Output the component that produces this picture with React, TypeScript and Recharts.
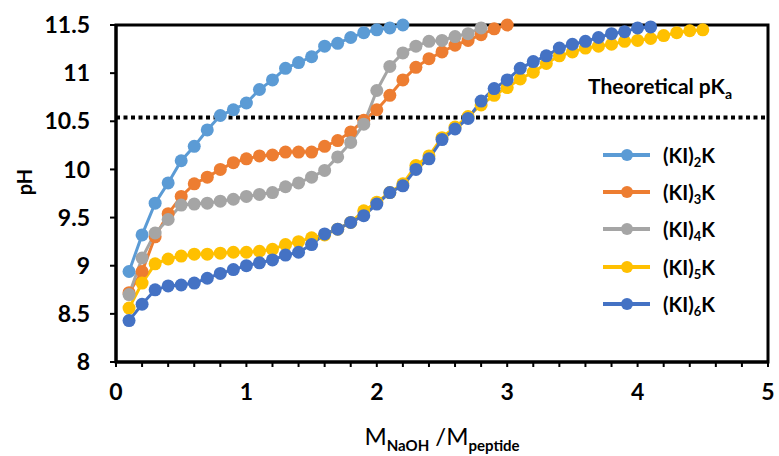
import React from 'react'
import {
  LineChart,
  Line,
  XAxis,
  YAxis,
  ReferenceLine,
  ReferenceArea,
  Label,
} from 'recharts'

// NaOH / peptide molar ratio for each titration point
const X_VALUES = [
  0.1, 0.2, 0.3, 0.4, 0.5, 0.6, 0.7, 0.8, 0.9, 1.0,
  1.1, 1.2, 1.3, 1.4, 1.5, 1.6, 1.7, 1.8, 1.9, 2.0,
  2.1, 2.2, 2.3, 2.4, 2.5, 2.6, 2.7, 2.8, 2.9, 3.0,
  3.1, 3.2, 3.3, 3.4, 3.5, 3.6, 3.7, 3.8, 3.9, 4.0,
  4.1, 4.2, 4.3, 4.4, 4.5,
]

const KI2K = [
  8.94, 9.32, 9.65, 9.86, 10.09, 10.24, 10.41, 10.56, 10.62, 10.69,
  10.83, 10.93, 11.05, 11.11, 11.17, 11.28, 11.31, 11.37, 11.42, 11.45,
  11.47, 11.5,
]
const KI3K = [
  8.72, 8.94, 9.3, 9.54, 9.72, 9.85, 9.92, 10.0, 10.07, 10.11,
  10.14, 10.15, 10.18, 10.18, 10.18, 10.24, 10.3, 10.39, 10.51, 10.62,
  10.77, 10.93, 11.06, 11.15, 11.22, 11.29, 11.34, 11.4, 11.46, 11.5,
]
const KI4K = [
  8.7, 9.08, 9.34, 9.48, 9.63, 9.64, 9.65, 9.67, 9.69, 9.72,
  9.74, 9.76, 9.82, 9.86, 9.92, 9.99, 10.13, 10.28, 10.47, 10.82,
  11.07, 11.21, 11.28, 11.33, 11.34, 11.38, 11.41, 11.47,
]
const KI5K = [
  8.56, 8.82, 9.02, 9.07, 9.1, 9.12, 9.12, 9.13, 9.14, 9.14,
  9.15, 9.17, 9.22, 9.25, 9.29, 9.32, 9.38, 9.45, 9.57, 9.66,
  9.76, 9.85, 10.04, 10.14, 10.33, 10.44, 10.55, 10.67, 10.77, 10.85,
  10.94, 11.01, 11.1, 11.18, 11.22, 11.26, 11.28, 11.3, 11.33, 11.34,
  11.36, 11.39, 11.42, 11.44, 11.45,
]
const KI6K = [
  8.43, 8.6, 8.75, 8.79, 8.8, 8.82, 8.87, 8.92, 8.96, 9.0,
  9.03, 9.06, 9.11, 9.14, 9.22, 9.33, 9.38, 9.45, 9.52, 9.64,
  9.76, 9.83, 10.0, 10.11, 10.31, 10.42, 10.53, 10.71, 10.84, 10.93,
  11.05, 11.12, 11.18, 11.26, 11.3, 11.33, 11.37, 11.41, 11.43, 11.47,
  11.48,
]

const SERIES_NAMES = ['KI2K', 'KI3K', 'KI4K', 'KI5K', 'KI6K']
const SERIES_SUBS = ['2', '3', '4', '5', '6']
const SERIES_VALUES = [KI2K, KI3K, KI4K, KI5K, KI6K]
const SERIES_COLORS = ['#5B9BD5', '#ED7D31', '#A5A5A5', '#FFC000', '#4472C4']

const Y_TICKS = [8, 8.5, 9, 9.5, 10, 10.5, 11, 11.5]
const X_TICKS = [
  0, 0.2, 0.4, 0.6, 0.8, 1, 1.2, 1.4, 1.6, 1.8, 2, 2.2, 2.4, 2.6, 2.8,
  3, 3.2, 3.4, 3.6, 3.8, 4, 4.2, 4.4, 4.6, 4.8, 5,
]
const THEORETICAL_PKA = 10.54

const FONT = "Lato, 'Open Sans', sans-serif"

const XTick = ({ x, y, payload }: any) => {
  const v = payload.value
  if (Math.abs(v - Math.round(v)) > 1e-6) return null
  return (
    <text x={x} y={y} dy="0.72em" textAnchor="middle" fontSize={23} fontWeight="bold" fontFamily={FONT} fill="#000">
      {Math.round(v)}
    </text>
  )
}

const XTitle = ({ viewBox }: any) => {
  const cx = viewBox.x + viewBox.width / 2
  return (
    <text x={cx} y={445} textAnchor="middle" fontSize={24} fontFamily={FONT} fill="#000">
      <tspan>M</tspan>
      <tspan fontSize={15} fontWeight="bold" dy={6}>NaOH</tspan>
      <tspan dy={-6}> /M</tspan>
      <tspan fontSize={15} fontWeight="bold" dy={6}>peptide</tspan>
    </text>
  )
}

const YTitle = () => (
  <text
    x={24}
    y={182}
    transform="rotate(-90 24 182)"
    textAnchor="middle"
    dominantBaseline="central"
    fontSize={20}
    fontWeight="bold"
    fontFamily={FONT}
    fill="#000"
  >
    pH
  </text>
)

const PkaLabel = ({ viewBox }: any) => {
  const right = viewBox.x + viewBox.width - 36
  return (
    <text x={right} y={viewBox.y - 23} textAnchor="end" fontSize={21} fontWeight="bold" fontFamily={FONT} fill="#000">
      <tspan>Theoretical pK</tspan>
      <tspan fontSize={14} dy={5}>a</tspan>
    </text>
  )
}

// legend drawn as an overlay so it doesn't eat into the plot area
const ChartLegend = () => (
  <div style={{ position: 'absolute', left: 603, top: 136, fontFamily: FONT }}>
    {SERIES_NAMES.map((name, i) => (
      <div key={name} style={{ display: 'flex', alignItems: 'center', height: 37.3 }}>
        <svg width={47} height={16} style={{ display: 'block' }}>
          <line x1={0} y1={8} x2={47} y2={8} stroke={SERIES_COLORS[i]} strokeWidth={4} />
          <circle cx={24} cy={8} r={6} fill={SERIES_COLORS[i]} />
        </svg>
        <span style={{ marginLeft: 13, fontSize: 20, fontWeight: 'bold', color: '#000', whiteSpace: 'nowrap' }}>
          (KI)<sub style={{ fontSize: 13, verticalAlign: -4, lineHeight: 0 }}>{SERIES_SUBS[i]}</sub>K
        </span>
      </div>
    ))}
  </div>
)

export default function App() {
  return (
    <div style={{ position: 'absolute', left: 0, top: 0, width: 779, height: 456, background: '#fff' }}>
      <LineChart width={779} height={456} margin={{ top: 25, right: 11, left: 56, bottom: 34 }}>
        <XAxis
          type="number"
          dataKey="x"
          domain={[0, 5]}
          ticks={X_TICKS}
          interval={0}
          tickSize={5}
          tickMargin={16}
          height={60}
          axisLine={{ stroke: '#000', strokeWidth: 3 }}
          tickLine={{ stroke: '#000', strokeWidth: 2 }}
          tick={(p: any) => <XTick {...p} />}
        >
          <Label content={<XTitle />} />
        </XAxis>
        <YAxis
          type="number"
          domain={[8, 11.5]}
          ticks={Y_TICKS}
          interval={0}
          width={60}
          tickSize={6}
          tickMargin={20}
          axisLine={{ stroke: '#000', strokeWidth: 3 }}
          tickLine={{ stroke: '#000', strokeWidth: 2 }}
          tick={{ fontSize: 23, fontWeight: 'bold', fill: '#000', fontFamily: FONT }}
        >
          <Label content={<YTitle />} />
        </YAxis>
        <ReferenceArea x1={0} x2={5} y1={8} y2={11.5} fill="none" stroke="#000" strokeWidth={3} ifOverflow="visible" />
        <ReferenceLine
          y={THEORETICAL_PKA}
          stroke="#000"
          strokeWidth={4}
          strokeDasharray="4 3.5"
          label={<PkaLabel />}
        />
        {SERIES_NAMES.map((name, i) => (
          <Line
            key={name}
            name={name}
            type="linear"
            data={SERIES_VALUES[i].map((v, j) => ({ x: X_VALUES[j], y: v }))}
            dataKey="y"
            stroke={SERIES_COLORS[i]}
            strokeWidth={3}
            dot={{ r: 6.5, fill: SERIES_COLORS[i], stroke: 'none' }}
            activeDot={false}
            isAnimationActive={false}
          />
        ))}
      </LineChart>
      <ChartLegend />
    </div>
  )
}
